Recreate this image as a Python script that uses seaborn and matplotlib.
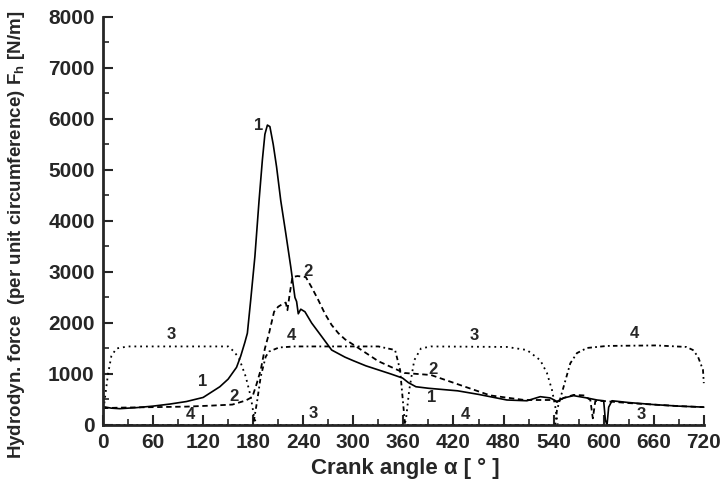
import numpy as np
import pandas as pd
import matplotlib
matplotlib.use("Agg")
import matplotlib.pyplot as plt
from matplotlib.ticker import MultipleLocator
import seaborn as sns

# ---- data (crank angle in deg, force in N/m) ----
angle_1 = [0, 10, 20, 40, 60, 80, 100, 120, 140, 150, 160, 165, 170, 173, 177,
           182, 187, 191, 194, 197, 200, 204, 208, 213, 219, 225, 230, 232, 234,
           237, 242, 250, 260, 274, 290, 300, 315, 330, 345, 359, 366, 375, 390,
           425, 450, 484, 508, 524, 536, 544, 552, 564, 580, 592, 600, 602, 604,
           606, 610, 630, 660, 690, 720]
force_1 = [360, 330, 320, 340, 370, 410, 460, 540, 750, 900, 1130, 1350, 1620,
           1800, 2450, 3300, 4400, 5200, 5700, 5880, 5850, 5500, 5060, 4400, 3760,
           3100, 2500, 2420, 2180, 2270, 2220, 2000, 1780, 1470, 1330, 1260, 1160,
           1080, 1000, 920, 830, 750, 720, 670, 600, 490, 475, 555, 530, 460, 530,
           575, 530, 490, 475, 100, 0, 350, 475, 440, 400, 370, 350]

angle_2 = [0, 20, 60, 100, 130, 155, 171, 179, 184, 189, 194, 199, 205, 210, 216,
           219, 221, 224, 227, 233, 243, 250, 258, 266, 274, 282, 290, 306, 330,
           361, 393, 425, 464, 505, 524, 540, 544, 552, 564, 576, 584, 587, 590,
           600, 630, 660, 690, 720]
force_2 = [330, 340, 350, 360, 380, 400, 480, 550, 800, 1080, 1500, 1800, 2220,
           2320, 2380, 2400, 2250, 2600, 2900, 2920, 2900, 2700, 2450, 2180, 1960,
           1800, 1680, 1510, 1250, 1020, 980, 800, 580, 490, 490, 490, 450, 530,
           590, 580, 490, 130, 470, 470, 430, 400, 370, 350]

angle_3 = [0, 2, 6, 10, 16, 30, 150, 157, 163, 171, 177, 181, 184, 361, 363, 367,
           373, 381, 393, 484, 508, 524, 532, 538, 542, 545, 720]
force_3 = [200, 490, 1000, 1350, 1500, 1540, 1540, 1440, 1310, 950, 560, 160, 0,
           0, 100, 690, 1270, 1500, 1540, 1530, 1470, 1270, 1020, 690, 360, 0, 0]

angle_4 = [0, 180, 181, 185, 189, 195, 199, 211, 230, 330, 350, 356, 360, 362,
           542, 544, 552, 560, 568, 580, 604, 663, 699, 707, 713, 719, 720]
force_4 = [0, 0, 100, 500, 950, 1340, 1440, 1520, 1540, 1540, 1470, 1080, 360, 0,
           0, 290, 750, 1210, 1410, 1510, 1550, 1560, 1530, 1470, 1340, 1080, 820]

# curve numbers written on the chart: (text, angle, force)
curve_labels = [("1", 186, 5880), ("1", 119, 850), ("1", 394, 530),
                ("2", 246, 3000), ("2", 157, 560), ("2", 395, 1080),
                ("3", 82, 1780), ("3", 445, 1760), ("3", 252, 230), ("3", 645, 210),
                ("4", 226, 1760), ("4", 637, 1800), ("4", 105, 200), ("4", 434, 210)]

x_ticks = list(range(0, 721, 60))
y_ticks = list(range(0, 8001, 1000))

# ---- style ----
sns.set_style("ticks")
plt.rcParams["font.family"] = ["Liberation Sans", "DejaVu Sans"]
plt.rcParams["font.weight"] = "bold"
plt.rcParams["mathtext.fontset"] = "custom"
plt.rcParams["mathtext.rm"] = "Liberation Sans"
plt.rcParams["mathtext.bf"] = "Liberation Sans:bold"

fig = plt.figure(figsize=(7.28, 4.94), dpi=100)
ax = fig.add_axes([0.1415, 0.1397, 0.831, 0.826])

df1 = pd.DataFrame({"angle": angle_1, "force": force_1})
df2 = pd.DataFrame({"angle": angle_2, "force": force_2})
df3 = pd.DataFrame({"angle": angle_3, "force": force_3})
df4 = pd.DataFrame({"angle": angle_4, "force": force_4})

sns.lineplot(data=df1, x="angle", y="force", ax=ax, color="black", lw=1.2,
             estimator=None, sort=False)
sns.lineplot(data=df2, x="angle", y="force", ax=ax, color="black", lw=1.3,
             estimator=None, sort=False, linestyle=(0, (3, 2)))
sns.lineplot(data=df3, x="angle", y="force", ax=ax, color="black", lw=1.3,
             estimator=None, sort=False, linestyle=(0, (1, 2.2)))
sns.lineplot(data=df4, x="angle", y="force", ax=ax, color="black", lw=1.3,
             estimator=None, sort=False, linestyle=(0, (2.5, 1.8, 1, 1.8)))

for txt, a, f in curve_labels:
    ax.text(a, f, txt, fontsize=12, fontweight="bold", ha="center", va="center")

ax.set_xlim(0, 725)
ax.set_ylim(0, 8000)
ax.set_xticks(x_ticks)
ax.set_yticks(y_ticks)
ax.xaxis.set_minor_locator(MultipleLocator(30))
ax.yaxis.set_minor_locator(MultipleLocator(500))
ax.tick_params(which="major", direction="in", length=7, width=1.5, labelsize=15, pad=6)
ax.tick_params(which="minor", direction="in", length=4, width=1.2)
sns.despine(ax=ax)
for side in ["left", "bottom"]:
    ax.spines[side].set_linewidth(2)
ax.spines["bottom"].set_bounds(0, 720)

ax.set_xlabel("Crank angle \u03b1 [ \u00b0 ]", fontsize=16, fontweight="bold")
ax.set_ylabel("Hydrodyn. force  (per unit circumference) F$_{\\rm h}$ [N/m]",
              fontsize=13.5, fontweight="bold")
ax.yaxis.set_label_coords(-0.126, 0.465)

fig.savefig("out.png", dpi=100)
